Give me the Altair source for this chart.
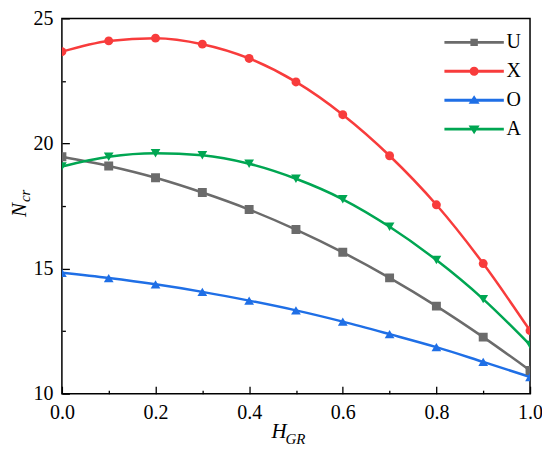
import altair as alt
import pandas as pd

# ---- data ----
h_gr = [0.0, 0.1, 0.2, 0.3, 0.4, 0.5, 0.6, 0.7, 0.8, 0.9, 1.0]
series_names = ["U", "X", "O", "A"]
U = [19.47, 19.10, 18.63, 18.04, 17.36, 16.56, 15.65, 14.63, 13.50, 12.26, 10.93]
X = [23.67, 24.10, 24.21, 23.97, 23.40, 22.46, 21.15, 19.51, 17.55, 15.20, 12.52]
O = [14.83, 14.62, 14.37, 14.07, 13.72, 13.33, 12.88, 12.38, 11.86, 11.27, 10.67]
A = [19.08, 19.47, 19.61, 19.53, 19.19, 18.59, 17.77, 16.67, 15.34, 13.78, 11.95]
x_tick_labels = [0.0, 0.2, 0.4, 0.6, 0.8, 1.0]
x_ticks_all = [0.0, 0.1, 0.2, 0.3, 0.4, 0.5, 0.6, 0.7, 0.8, 0.9, 1.0]
y_tick_labels = [10, 15, 20, 25]
y_ticks_all = [10, 12.5, 15, 17.5, 20, 22.5, 25]

colors = ["#6b6b6b", "#f83c3c", "#1f6fe6", "#00a652"]
marker_shapes = ["square", "circle", "triangle-up", "triangle-down"]
# legend glyphs: a line segment (thin rectangle) with the series marker in the middle
legend_paths = [
    "M-2.48,-0.12H2.48V0.12H-2.48ZM-0.31,-0.31H0.31V0.31H-0.31Z",
    "M-2.48,-0.12H2.48V0.12H-2.48ZM0.38,0A0.38,0.38 0 1,1 -0.38,0A0.38,0.38 0 1,1 0.38,0Z",
    "M-2.48,-0.12H2.48V0.12H-2.48ZM0,-0.42L0.46,0.3H-0.46Z",
    "M-2.48,-0.12H2.48V0.12H-2.48ZM0,0.42L-0.46,-0.3H0.46Z",
]

rows = []
for name, vals in zip(series_names, [U, X, O, A]):
    for xv, yv in zip(h_gr, vals):
        rows.append({"H": xv, "N": yv, "series": name})
df = pd.DataFrame(rows)

W, H = 469, 376
FONT = "Liberation Serif, Times New Roman, serif"

xscale = alt.Scale(domain=[0, 1], nice=False, zero=False)
yscale = alt.Scale(domain=[10, 25], nice=False, zero=False)
cscale = alt.Scale(domain=series_names, range=colors)

base = alt.Chart(df)

lines = base.mark_line(interpolate="monotone", strokeWidth=2.5, clip=True).encode(
    x=alt.X("H:Q", scale=xscale,
            axis=alt.Axis(orient="bottom", values=x_tick_labels, format=".1f",
                          ticks=False, tickSize=0, domain=False, grid=False,
                          labelFont=FONT, labelFontSize=20, labelColor="black",
                          labelFontWeight="normal",
                          labelPadding=9, labelFlush=False, title=None)),
    y=alt.Y("N:Q", scale=yscale,
            axis=alt.Axis(orient="left", values=y_tick_labels, format="d",
                          ticks=False, tickSize=0, domain=False, grid=False,
                          labelFont=FONT, labelFontSize=20, labelColor="black",
                          labelFontWeight="normal",
                          labelPadding=9, labelFlush=False, title=None)),
    color=alt.Color("series:N", scale=cscale, legend=None),
)

point_layers = []
for i, (name, shp) in enumerate(zip(series_names, marker_shapes)):
    if i == 0:
        xax = alt.Axis(orient="top", offset=-H, values=x_ticks_all, labels=False,
                       domain=False, grid=False, ticks=True, tickColor="black",
                       tickWidth=1.3,
                       tickSize={"condition": {"test": "round(datum.value*10) % 2 === 0", "value": 7.5}, "value": 3.5},
                       title=None)
        yax = alt.Axis(orient="right", offset=-W, values=y_ticks_all, labels=False,
                       domain=False, grid=False, ticks=True, tickColor="black",
                       tickWidth=1.3,
                       tickSize={"condition": {"test": "datum.value % 5 === 0", "value": 7.5}, "value": 3.5},
                       title=None)
    else:
        xax = None
        yax = None
    size = 80 if shp in ("square", "circle") else 95
    p = base.transform_filter(alt.datum.series == name).mark_point(
        filled=True, shape=shp, size=size, opacity=1, clip=True
    ).encode(
        x=alt.X("H:Q", scale=xscale, axis=xax),
        y=alt.Y("N:Q", scale=yscale, axis=yax),
        color=alt.Color("series:N", scale=cscale, legend=None),
    )
    point_layers.append(p)

leg_kwargs = dict(orient="none", legendX=401, legendY=12, title=None,
                  labelFont=FONT, labelFontSize=20, labelColor="black",
                  labelFontWeight="normal",
                  labelOffset=20.5, rowPadding=7, symbolStrokeWidth=0,
                  symbolSize=576, symbolOpacity=1)
# legend-only layer: its data is filtered out, the legend comes from the scale domain
legend_layer = base.transform_filter(alt.datum.N < 0).mark_point(filled=True, size=576).encode(
    x=alt.X("H:Q", scale=xscale, axis=None),
    y=alt.Y("N:Q", scale=yscale, axis=None),
    fill=alt.Fill("series:N", scale=alt.Scale(domain=series_names, range=colors),
                  legend=alt.Legend(**leg_kwargs)),
    shape=alt.Shape("series:N", scale=alt.Scale(domain=series_names, range=legend_paths),
                    legend=alt.Legend(**leg_kwargs)),
)


def label(txt, x, y, size, angle=0):
    return alt.Chart(pd.DataFrame({"t": [txt]})).mark_text(
        font=FONT, fontSize=size, fontStyle="italic", color="black",
        align="left", baseline="alphabetic", angle=angle
    ).encode(x=alt.value(x), y=alt.value(y), text="t:N")


titles = [
    label("H", 210, 420, 21),
    label("GR", 224, 426, 15),
    label("N", -36, 199, 21, angle=270),
    label("cr", -32, 184, 15, angle=270),
]

chart = alt.layer(lines, *point_layers, legend_layer, *titles).resolve_axis(
    x="independent", y="independent"
).resolve_scale(
    fill="independent", shape="independent"
).properties(
    width=W, height=H,
    autosize=alt.AutoSizeParams(type="none"),
    padding={"left": 54, "top": 10, "right": 12, "bottom": 52},
).configure_view(
    stroke="black", strokeWidth=1.5
).configure_axis(
    labelFont=FONT, labelFontSize=20, labelColor="black"
).configure_legend(
    labelFont=FONT, labelFontSize=20, labelColor="black"
)

chart.save("out.html", embed_options={"renderer": "svg", "actions": False})
